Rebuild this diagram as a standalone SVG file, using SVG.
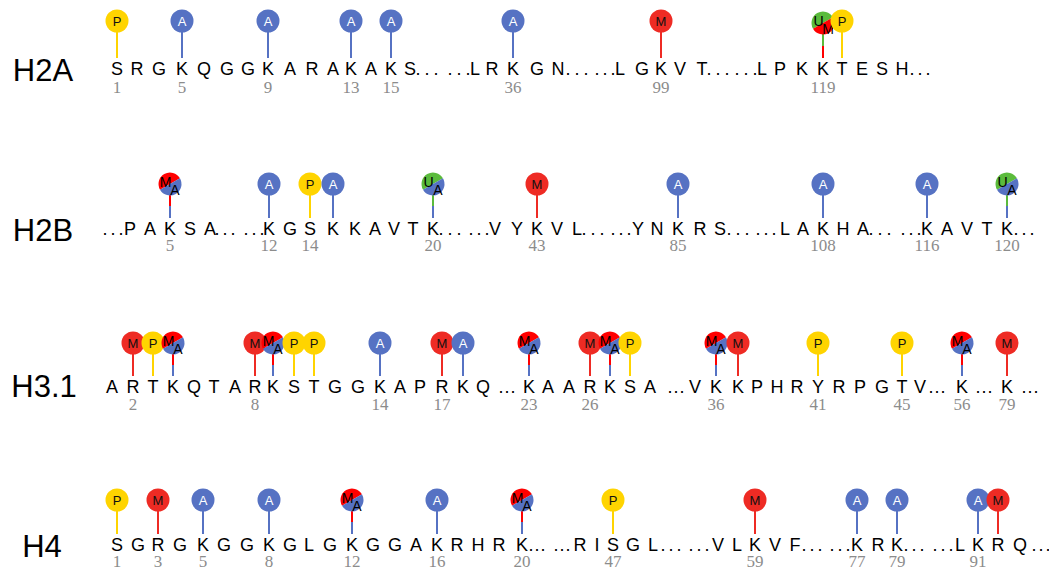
<svg xmlns="http://www.w3.org/2000/svg" xmlns:xlink="http://www.w3.org/1999/xlink" width="1049" height="569" viewBox="0 0 1049 569">
<style>
.seq{font-family:"Liberation Sans",Arial,sans-serif;font-size:18px;text-anchor:middle;fill:#000}
.lbl{font-family:"Liberation Sans",Arial,sans-serif;font-size:31px;text-anchor:middle;fill:#000}
.num{font-family:"Liberation Serif","Times New Roman",serif;font-size:17px;fill:#8c8c8c;text-anchor:middle}
.ct{font-family:"Liberation Sans",Arial,sans-serif;font-size:13px;text-anchor:middle;fill:#111}
.cs{font-family:"Liberation Sans",Arial,sans-serif;font-size:14px;text-anchor:middle;fill:#000}
.sA{stroke:#5672C3;stroke-width:2}
.sP{stroke:#FFD400;stroke-width:2}
.sM{stroke:#EE2B24;stroke-width:2}
.sR{stroke:#FF0000;stroke-width:2}
.sG{stroke:#5BBB3C;stroke-width:2}
</style>
<defs>
<g id="cA"><circle r="11.5" fill="#5672C3"/><text class="ct" y="5" fill="#fff" style="fill:#fff">A</text></g>
<g id="cP"><circle r="11.5" fill="#FFD400"/><text class="ct" y="5">P</text></g>
<g id="cM"><circle r="11.5" fill="#EE2B24"/><text class="ct" y="5">M</text></g>
<g id="cMA"><path d="M-9.96 5.75A11.5 11.5 0 0 1 9.96 -5.75Z" fill="#FF0000"/><path d="M9.96 -5.75A11.5 11.5 0 0 1 -9.96 5.75Z" fill="#5672C3"/><text class="cs" x="-4.5" y="2.5">M</text><text class="cs" x="5" y="11">A</text></g>
<g id="cUA"><path d="M-9.96 5.75A11.5 11.5 0 0 1 9.96 -5.75Z" fill="#5BBB3C"/><path d="M9.96 -5.75A11.5 11.5 0 0 1 -9.96 5.75Z" fill="#5672C3"/><text class="cs" x="-4.5" y="2.5">U</text><text class="cs" x="5" y="11">A</text></g>
<g id="cUM"><path d="M-9.96 5.75A11.5 11.5 0 0 1 9.96 -5.75Z" fill="#5BBB3C"/><path d="M9.96 -5.75A11.5 11.5 0 0 1 -9.96 5.75Z" fill="#FF0000"/><text class="cs" x="-4.5" y="2.5">U</text><text class="cs" x="5" y="11">M</text></g>
</defs>
<rect width="1049" height="569" fill="#fff"/>

<g id="labels">
<text class="lbl" x="43" y="81">H2A</text>
<text class="lbl" x="43" y="241">H2B</text>
<text class="lbl" x="44" y="397">H3.1</text>
<text class="lbl" x="42" y="557">H4</text>
</g>

<g id="sequences">
<text class="seq" y="75" x="117 137 159 182 204 227 248 268 290 312 333 351 371 391 410 418 427 436 450 459 468 475 492 513 537 558 568 577 586 597 605 613 620 642 661 680 702 709 718 727 737 746 755 762 780 802 823 842 862 882 902 912 920 928">SRGKQGGKARAKAKS......LRKGN......LGKVT......LPKKTESH...</text>
<text class="seq" y="235" x="105 113 121 130 150 170 190 210 217 225 233 246 254 262 269 290 310 333 355 375 394 413 433 441 450 459 471 479 487 495 517 537 557 577 584 593 602 613 621 629 638 657 678 700 720 729 738 747 758 766 774 785 803 823 843 863 871 880 889 903 911 919 927 947 967 987 1007 1016 1024 1032">...PAKSA......KGSKKAVTK......VYKVL......YNKRS......LAKHA......KAVTK...</text>
<text class="seq" y="393" x="112 133 153 173 194 214 235 255 273 294 314 335 358 380 400 420 442 463 483 501 507 513 529 548 569 590 610 630 650 670 676 682 695 716 738 757 777 797 818 839 860 882 902 920 931 937 943 962 978 984 990 1007 1024 1030 1036">ARTKQTARKSTGGKAPRKQ...KAARKSA...VKKPHRYRPGTV...K...K...</text>
<text class="seq" y="551" x="117 138 158 180 203 224 247 269 290 309 330 352 373 395 416 437 457 478 499 522 531 537 543 556 562 568 580 597 613 633 653 663 671 679 691 699 707 718 737 755 775 795 804 812 820 832 840 848 857 878 897 906 914 922 935 943 951 960 978 998 1020 1034 1041 1048">SGRGKGGKGLGKGGAKRHRK......RISGL......VLKVF......KRK......LKRQ...</text>
</g>

<g id="numbers">
<text class="num" y="93"><tspan x="117">1</tspan><tspan x="182">5</tspan><tspan x="268">9</tspan><tspan x="351">13</tspan><tspan x="391">15</tspan><tspan x="513">36</tspan><tspan x="661">99</tspan><tspan x="823">119</tspan></text>
<text class="num" y="251"><tspan x="170">5</tspan><tspan x="269">12</tspan><tspan x="310">14</tspan><tspan x="433">20</tspan><tspan x="537">43</tspan><tspan x="678">85</tspan><tspan x="823">108</tspan><tspan x="927">116</tspan><tspan x="1007">120</tspan></text>
<text class="num" y="410"><tspan x="133">2</tspan><tspan x="255">8</tspan><tspan x="380">14</tspan><tspan x="442">17</tspan><tspan x="529">23</tspan><tspan x="590">26</tspan><tspan x="716">36</tspan><tspan x="818">41</tspan><tspan x="902">45</tspan><tspan x="962">56</tspan><tspan x="1007">79</tspan></text>
<text class="num" y="567"><tspan x="117">1</tspan><tspan x="158">3</tspan><tspan x="203">5</tspan><tspan x="269">8</tspan><tspan x="352">12</tspan><tspan x="437">16</tspan><tspan x="522">20</tspan><tspan x="613">47</tspan><tspan x="755">59</tspan><tspan x="857">77</tspan><tspan x="897">79</tspan><tspan x="978">91</tspan></text>
</g>

<g id="connectors">
<line class="sP" x1="117" y1="21" x2="117" y2="58"/>
<line class="sA" x1="182" y1="21" x2="182" y2="58"/>
<line class="sA" x1="268" y1="21" x2="268" y2="58"/>
<line class="sA" x1="351" y1="21" x2="351" y2="58"/>
<line class="sA" x1="391" y1="21" x2="391" y2="58"/>
<line class="sA" x1="513" y1="21" x2="513" y2="58"/>
<line class="sM" x1="661" y1="21" x2="661" y2="58"/>
<line class="sG" x1="823" y1="23" x2="823" y2="46"/><line class="sR" x1="823" y1="46" x2="823" y2="58"/>
<line class="sP" x1="842" y1="21" x2="842" y2="58"/>

<line class="sR" x1="170" y1="184" x2="170" y2="206"/><line class="sA" x1="170" y1="206" x2="170" y2="218"/>
<line class="sA" x1="269" y1="184" x2="269" y2="218"/>
<line class="sP" x1="310" y1="184" x2="310" y2="218"/>
<line class="sA" x1="333" y1="184" x2="333" y2="218"/>
<line class="sG" x1="433" y1="184" x2="433" y2="206"/><line class="sA" x1="433" y1="206" x2="433" y2="218"/>
<line class="sM" x1="537" y1="184" x2="537" y2="218"/>
<line class="sA" x1="678" y1="184" x2="678" y2="218"/>
<line class="sA" x1="823" y1="184" x2="823" y2="218"/>
<line class="sA" x1="927" y1="184" x2="927" y2="218"/>
<line class="sG" x1="1007" y1="184" x2="1007" y2="206"/><line class="sA" x1="1007" y1="206" x2="1007" y2="218"/>

<line class="sM" x1="133" y1="343" x2="133" y2="376"/>
<line class="sP" x1="153" y1="343" x2="153" y2="376"/>
<line class="sR" x1="173" y1="343" x2="173" y2="365"/><line class="sA" x1="173" y1="365" x2="173" y2="376"/>
<line class="sM" x1="255" y1="343" x2="255" y2="376"/>
<line class="sR" x1="273" y1="343" x2="273" y2="365"/><line class="sA" x1="273" y1="365" x2="273" y2="376"/>
<line class="sP" x1="294" y1="343" x2="294" y2="376"/>
<line class="sP" x1="314" y1="343" x2="314" y2="376"/>
<line class="sA" x1="380" y1="343" x2="380" y2="376"/>
<line class="sM" x1="442" y1="343" x2="442" y2="376"/>
<line class="sA" x1="463" y1="343" x2="463" y2="376"/>
<line class="sR" x1="529" y1="343" x2="529" y2="365"/><line class="sA" x1="529" y1="365" x2="529" y2="376"/>
<line class="sM" x1="590" y1="343" x2="590" y2="376"/>
<line class="sR" x1="610" y1="343" x2="610" y2="365"/><line class="sA" x1="610" y1="365" x2="610" y2="376"/>
<line class="sP" x1="630" y1="343" x2="630" y2="376"/>
<line class="sR" x1="716" y1="343" x2="716" y2="365"/><line class="sA" x1="716" y1="365" x2="716" y2="376"/>
<line class="sM" x1="738" y1="343" x2="738" y2="376"/>
<line class="sP" x1="818" y1="343" x2="818" y2="376"/>
<line class="sP" x1="902" y1="343" x2="902" y2="376"/>
<line class="sR" x1="962" y1="343" x2="962" y2="365"/><line class="sA" x1="962" y1="365" x2="962" y2="376"/>
<line class="sM" x1="1007" y1="343" x2="1007" y2="376"/>

<line class="sP" x1="117" y1="500" x2="117" y2="534"/>
<line class="sM" x1="158" y1="500" x2="158" y2="534"/>
<line class="sA" x1="203" y1="500" x2="203" y2="534"/>
<line class="sA" x1="269" y1="500" x2="269" y2="534"/>
<line class="sR" x1="352" y1="500" x2="352" y2="522"/><line class="sA" x1="352" y1="522" x2="352" y2="534"/>
<line class="sA" x1="437" y1="500" x2="437" y2="534"/>
<line class="sR" x1="522" y1="500" x2="522" y2="522"/><line class="sA" x1="522" y1="522" x2="522" y2="534"/>
<line class="sP" x1="613" y1="500" x2="613" y2="534"/>
<line class="sM" x1="755" y1="500" x2="755" y2="534"/>
<line class="sA" x1="857" y1="500" x2="857" y2="534"/>
<line class="sA" x1="897" y1="500" x2="897" y2="534"/>
<line class="sA" x1="978" y1="500" x2="978" y2="534"/>
<line class="sM" x1="998" y1="500" x2="998" y2="534"/>
</g>

<g id="h2a-pins">
<g id="h2a-S1"><use href="#cP" x="117" y="21"/></g>
<g id="h2a-K5"><use href="#cA" x="182" y="21"/></g>
<g id="h2a-K9"><use href="#cA" x="268" y="21"/></g>
<g id="h2a-K13"><use href="#cA" x="351" y="21"/></g>
<g id="h2a-K15"><use href="#cA" x="391" y="21"/></g>
<g id="h2a-K36"><use href="#cA" x="513" y="21"/></g>
<g id="h2a-K99"><use href="#cM" x="661" y="21"/></g>
<g id="h2a-K119"><use href="#cUM" x="823" y="23"/></g>
<g id="h2a-T120"><use href="#cP" x="842" y="21"/></g>
</g>

<g id="h2b-pins">
<g id="h2b-K5"><use href="#cMA" x="170" y="184"/></g>
<g id="h2b-K12"><use href="#cA" x="269" y="184"/></g>
<g id="h2b-S14"><use href="#cP" x="310" y="184"/></g>
<g id="h2b-K15"><use href="#cA" x="333" y="184"/></g>
<g id="h2b-K20"><use href="#cUA" x="433" y="184"/></g>
<g id="h2b-K43"><use href="#cM" x="537" y="184"/></g>
<g id="h2b-K85"><use href="#cA" x="678" y="184"/></g>
<g id="h2b-K108"><use href="#cA" x="823" y="184"/></g>
<g id="h2b-K116"><use href="#cA" x="927" y="184"/></g>
<g id="h2b-K120"><use href="#cUA" x="1007" y="184"/></g>
</g>

<g id="h31-pins">
<g id="h31-R2"><use href="#cM" x="133" y="343"/></g>
<g id="h31-T3"><use href="#cP" x="153" y="343"/></g>
<g id="h31-K4"><use href="#cMA" x="173" y="343"/></g>
<g id="h31-R8"><use href="#cM" x="255" y="343"/></g>
<g id="h31-K9"><use href="#cMA" x="273" y="343"/></g>
<g id="h31-S10"><use href="#cP" x="294" y="343"/></g>
<g id="h31-T11"><use href="#cP" x="314" y="343"/></g>
<g id="h31-K14"><use href="#cA" x="380" y="343"/></g>
<g id="h31-R17"><use href="#cM" x="442" y="343"/></g>
<g id="h31-K18"><use href="#cA" x="463" y="343"/></g>
<g id="h31-K23"><use href="#cMA" x="529" y="343"/></g>
<g id="h31-R26"><use href="#cM" x="590" y="343"/></g>
<g id="h31-K27"><use href="#cMA" x="610" y="343"/></g>
<g id="h31-S28"><use href="#cP" x="630" y="343"/></g>
<g id="h31-K36"><use href="#cMA" x="716" y="343"/></g>
<g id="h31-K37"><use href="#cM" x="738" y="343"/></g>
<g id="h31-Y41"><use href="#cP" x="818" y="343"/></g>
<g id="h31-T45"><use href="#cP" x="902" y="343"/></g>
<g id="h31-K56"><use href="#cMA" x="962" y="343"/></g>
<g id="h31-K79"><use href="#cM" x="1007" y="343"/></g>
</g>

<g id="h4-pins">
<g id="h4-S1"><use href="#cP" x="117" y="500"/></g>
<g id="h4-R3"><use href="#cM" x="158" y="500"/></g>
<g id="h4-K5"><use href="#cA" x="203" y="500"/></g>
<g id="h4-K8"><use href="#cA" x="269" y="500"/></g>
<g id="h4-K12"><use href="#cMA" x="352" y="500"/></g>
<g id="h4-K16"><use href="#cA" x="437" y="500"/></g>
<g id="h4-K20"><use href="#cMA" x="522" y="500"/></g>
<g id="h4-S47"><use href="#cP" x="613" y="500"/></g>
<g id="h4-K59"><use href="#cM" x="755" y="500"/></g>
<g id="h4-K77"><use href="#cA" x="857" y="500"/></g>
<g id="h4-K79"><use href="#cA" x="897" y="500"/></g>
<g id="h4-K91"><use href="#cA" x="978" y="500"/></g>
<g id="h4-R92"><use href="#cM" x="998" y="500"/></g>
</g>
</svg>
